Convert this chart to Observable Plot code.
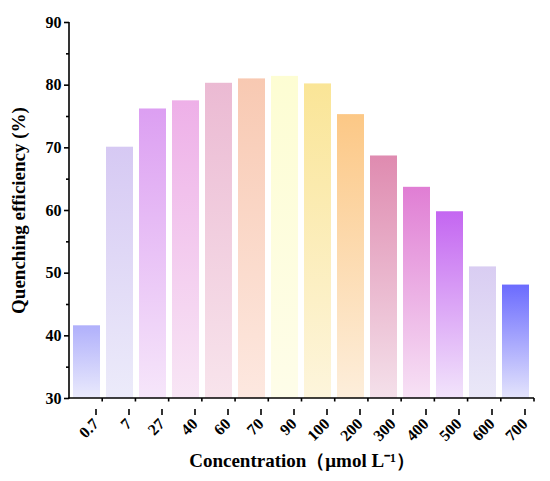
<!DOCTYPE html>
<html><head><meta charset="utf-8">
<script src="https://cdn.jsdelivr.net/npm/d3@7"></script>
<script src="https://cdn.jsdelivr.net/npm/@observablehq/plot@0.6"></script>
<style>body{margin:0;background:#fff}</style>
</head><body><div id="chart"></div>
<script>
const concentrations = ["0.7","7","27","40","60","70","90","100","200","300","400","500","600","700"];
const efficiency = [41.6,70.1,76.2,77.5,80.3,81.0,81.4,80.2,75.3,68.7,63.7,59.8,51.0,48.1];
const topColors = ["#b0b0fb","#d6c9f3","#dc9ff2","#eeb0e8","#ebbad3","#f8c9b2","#fdfdd3","#fae597","#fcc886","#df8bb0","#e07ed4","#c466f1","#d9cdf2","#6b6bfe"];
const bottomColors = ["#eaeafc","#ecebfa","#f6e6fa","#f8e6f5","#f8e4ec","#fde8e0","#fefde9","#fdf5dc","#fdeedb","#f4e0ea","#f7e2f5","#f2e4fb","#eae8f8","#e4e4fc"];
const yTicks = [30,40,50,60,70,80,90];
const yMinorTicks = [35,45,55,65,75,85];
const yTitle = "Quenching efficiency (%)";
const xTitle = "Concentration（μmol L⁻¹）";

const data = concentrations.map((c, i) => ({c, v: efficiency[i], g: `url(#grad${i})`}));
const font = "'Liberation Serif','Times New Roman',serif";

const defs = () => {
  const d = d3.create("svg:defs");
  concentrations.forEach((c, i) => {
    const g = d.append("linearGradient").attr("id", `grad${i}`)
      .attr("x1", 0).attr("y1", 0).attr("x2", 0).attr("y2", 1);
    g.append("stop").attr("offset", "0%").attr("stop-color", topColors[i]);
    g.append("stop").attr("offset", "100%").attr("stop-color", bottomColors[i]);
  });
  return d.node();
};

const axisLines = (index, scales, values, dims) => {
  const {marginLeft, marginRight, marginTop, marginBottom, width, height} = dims;
  const g = d3.create("svg:g").attr("stroke", "#000").attr("stroke-width", 1.6).attr("fill", "none");
  const y0 = height - marginBottom;
  g.append("line").attr("x1", marginLeft).attr("x2", marginLeft).attr("y1", marginTop).attr("y2", y0 + 0.8);
  g.append("line").attr("x1", marginLeft - 0.8).attr("x2", width - marginRight).attr("y1", y0).attr("y2", y0);
  const n = concentrations.length;
  const step = (width - marginLeft - marginRight) / n;
  for (let k = 1; k <= n; k++) {
    const xx = marginLeft + k * step;
    g.append("line").attr("x1", xx).attr("x2", xx).attr("y1", y0).attr("y2", y0 + 3.5);
  }
  return g.node();
};

const chart = Plot.plot({
  width: 550,
  height: 481,
  marginLeft: 69,
  marginRight: 16,
  marginTop: 22,
  marginBottom: 83,
  x: {domain: concentrations, paddingInner: 0.18, paddingOuter: 0.09},
  y: {domain: [30, 90]},
  color: {type: "identity"},
  style: {fontFamily: font, background: "#fff", color: "#000"},
  marks: [
    defs,
    Plot.barY(data, {x: "c", y1: 30, y2: "v", fill: "g"}),
    Plot.axisY({ticks: yTicks, tickSize: 5, tickPadding: 3, fontSize: 16, fontWeight: "bold", strokeWidth: 1.6, label: null}),
    Plot.axisY({ticks: yMinorTicks, tickSize: 3, tickFormat: () => "", strokeWidth: 1.6, label: null}),
    Plot.axisX({tickSize: 6, tickRotate: -45, fontSize: 16, fontWeight: "bold", strokeWidth: 1.6, label: null, dx: 9, dy: 11}),
    axisLines,
    Plot.text([yTitle], {frameAnchor: "left", textAnchor: "middle", rotate: -90, dx: -51, fontSize: 19, fontWeight: "bold", text: d => d}),
    Plot.text([xTitle], {frameAnchor: "bottom", dy: 68, fontSize: 19, fontWeight: "bold", text: d => d})
  ]
});
document.getElementById("chart").appendChild(chart);
</script>
</body></html>
